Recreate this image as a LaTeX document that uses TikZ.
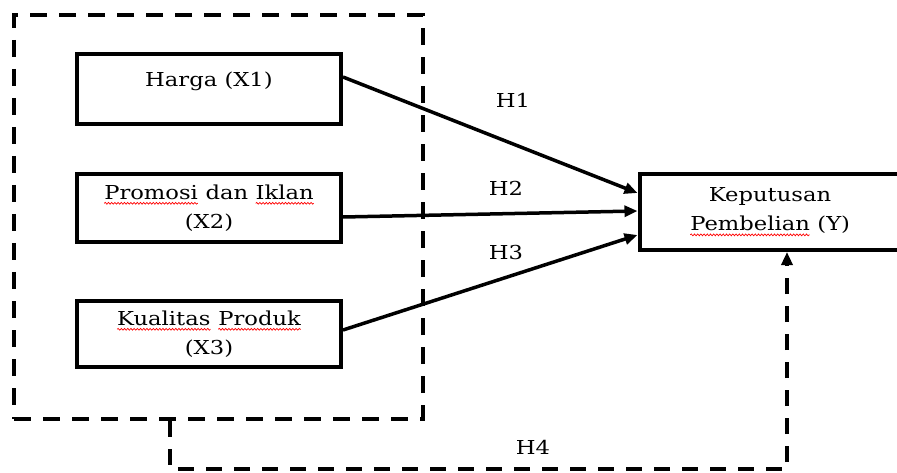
\documentclass[tikz,border=0pt]{standalone}
\usepackage{fontspec}
\setmainfont[FakeStretch=1.18]{DejaVu Serif}
\usetikzlibrary{arrows.meta,decorations.pathmorphing}
\newcommand\sqw[1]{\tikz[baseline=(sqw.base)]{\node[inner sep=0pt,outer sep=0pt,draw=none,minimum width=0pt,minimum height=0pt,text height={},text depth={}](sqw){#1};\draw[draw=red,line width=0.7pt,solid,decorate,decoration={snake,amplitude=0.9pt,segment length=3.2pt}]([yshift=-4pt]sqw.base west)--([yshift=-4pt]sqw.base east);}}
\begin{document}
\begin{tikzpicture}[x=1pt,y=-1pt,
  box/.style={draw,line width=4pt,rectangle,inner sep=0pt,align=center,font=\fontsize{19.2}{29}\selectfont},
  grpbox/.style={draw,line width=4pt,dash pattern=on 17pt off 12pt,rectangle,inner sep=0pt},
  grpline/.style={line width=3.5pt,dash pattern=on 16pt off 12pt,-{Triangle[length=13pt,width=11pt]}},
  conn/.style={line width=3.5pt,-{Triangle[length=13pt,width=11pt]}},
  lab/.style={font=\fontsize{19.2}{29}\selectfont,inner sep=0pt}]
\useasboundingbox (0,0) rectangle (897,473);
\clip (0,0) rectangle (897,473);
\node[grpbox,minimum width=409pt,minimum height=404pt] (grp) at (218.5,217) {};
\node[box,minimum width=264pt,minimum height=70pt,text height=14pt,text depth=18pt] (x1) at (209,89) {Harga (X1)};
\node[box,minimum width=264pt,minimum height=68pt] (x2) at (209,208) {\sqw{Promosi} dan \sqw{Iklan}\\(X2)};
\node[box,minimum width=264pt,minimum height=66pt] (x3) at (209,334) {\sqw{Kualitas} \sqw{Produk}\\(X3)};
\node[box,minimum width=261pt,minimum height=76pt] (yy) at (770,212) {Keputusan\\\sqw{Pembelian} (Y)};
\draw[conn] ([yshift=12pt]x1.east) -- ([yshift=19pt]yy.west);
\draw[conn] ([yshift=-9pt]x2.east) -- ([yshift=1pt]yy.west);
\draw[conn] ([yshift=4pt]x3.east) -- ([yshift=-23pt]yy.west);
\node[lab] (h1) at (513,100) {H1};
\node[lab] (h2) at (506,188) {H2};
\node[lab] (h3) at (506,253) {H3};
\node[lab] (h4) at (533,447) {H4};
\coordinate (c1) at (170,469);
\coordinate (c2) at (787,469);
\draw[grpline] (grp.south -| c1) -- (c1) -- (c2) -- (c2 |- yy.south);
\end{tikzpicture}
\end{document}
